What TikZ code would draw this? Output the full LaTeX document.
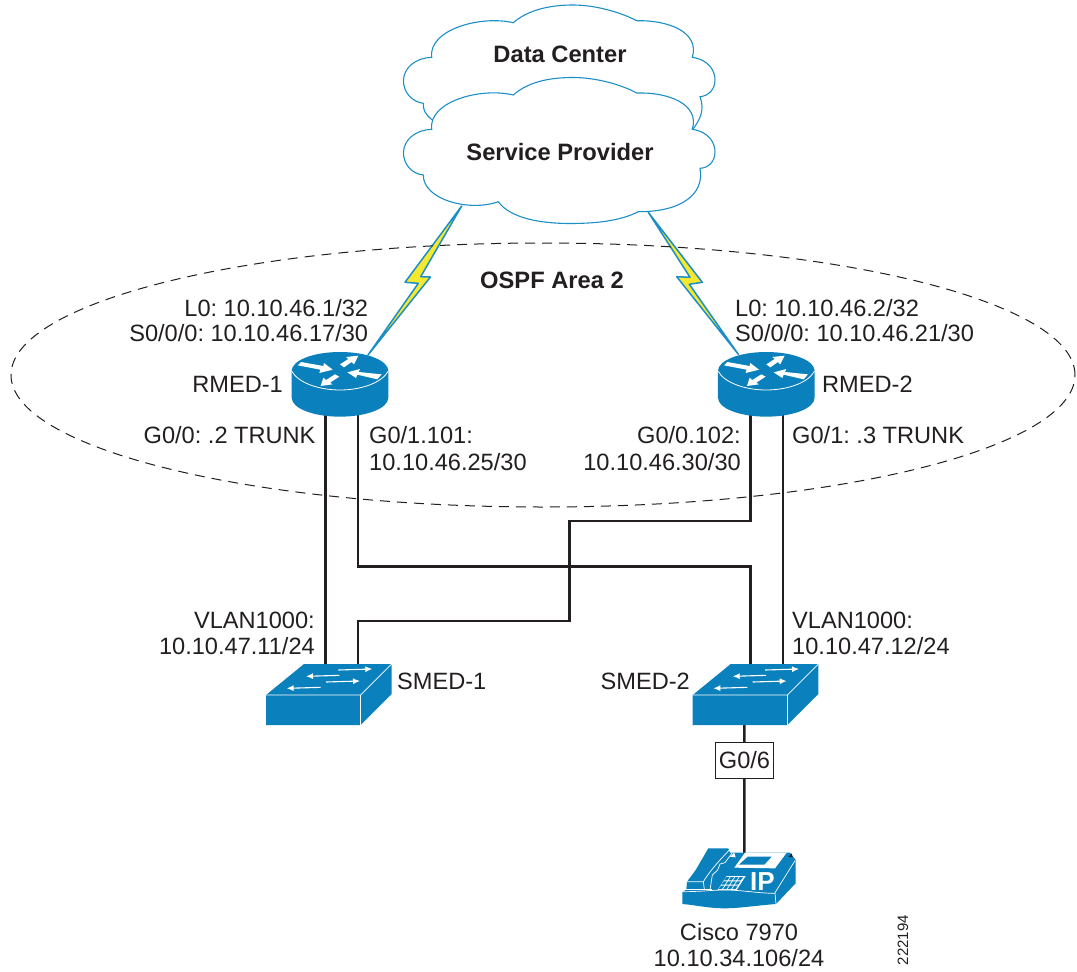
\documentclass[tikz,border=0pt]{standalone}
\usepackage{fontspec}
\setmainfont{Liberation Sans}
\usetikzlibrary{arrows.meta,shapes.geometric}
\definecolor{ciscoblue}{HTML}{0A80BC}
\definecolor{cloudline}{HTML}{1C8FC6}
\definecolor{ink}{HTML}{231F20}
\definecolor{boltyellow}{HTML}{F6E82F}
\tikzset{
  lbl/.style={inner sep=0pt,text=ink,font=\fontsize{23.6}{28}\selectfont},
  boldlbl/.style={inner sep=0pt,text=ink,font=\fontsize{23.7}{28}\selectfont\bfseries,anchor=base},
  link/.style={draw=ink,line width=2.5pt,line join=miter},
  cloudshape/.style={fill=white,draw=cloudline,line width=1.1pt},
  boltshape/.style={fill=boltyellow,draw=cloudline,line width=1.5pt,line join=round},
  area/.style={ellipse,draw=ink,line width=1pt,dash pattern=on 10pt off 7pt,inner sep=0pt,minimum width=1064pt,minimum height=264pt},
  whitearrow/.style={fill=white,draw=none},
  swarrow/.style={draw=white,line width=1.1pt,-{Latex[length=7pt,width=6pt]}},
  routerpic/.pic={
    \begin{scope}[x=0.3333pt,y=-0.3333pt,shift={(-210,-513)}]
      \fill[ciscoblue] (65,513) .. controls (65,481) and (130,456) .. (210,456) .. controls (290,456) and (355,481) .. (355,513)
        -- (355,593) .. controls (355,625) and (290,650) .. (210,650) .. controls (130,650) and (65,625) .. (65,593) -- cycle;
      \draw[white,line width=0.8pt] (65,513) .. controls (85,550) and (150,570) .. (210,570) .. controls (270,570) and (335,550) .. (355,513);
      \fill[whitearrow] (83,496) -- (93,486) -- (160,498) -- (162,489) -- (188,509) -- (148,519) -- (151,509) -- cycle;
      \fill[whitearrow] (265,467) -- (252,493) -- (245,486) -- (222,502) -- (210,493) -- (235,477) -- (228,471) -- cycle;
      \fill[whitearrow] (232,517) -- (270,507) -- (266,516) -- (335,523) -- (322,538) -- (262,524) -- (258,534) -- cycle;
      \fill[whitearrow] (152,558) -- (160,533) -- (168,540) -- (195,523) -- (208,530) -- (180,548) -- (188,553) -- cycle;
    \end{scope}
  },
  switchpic/.pic={
    \begin{scope}[x=0.3333pt,y=-0.3333pt,shift={(-48,-255)}]
      \fill[ciscoblue] (48,165) -- (162,72) -- (425,72) -- (425,162) -- (332,255) -- (48,255) -- cycle;
      \draw[white,line width=0.7pt] (48,165) -- (332,165) -- (425,72);
      \draw[white,line width=0.7pt] (332,165) -- (332,255);
      \draw[swarrow] (265,90) -- (367,87);
      \draw[swarrow] (268,106) -- (168,109);
      \draw[swarrow] (228,126) -- (330,123);
      \draw[swarrow] (212,142) -- (110,145);
    \end{scope}
  },
  phonepic/.pic={
    \begin{scope}[x=0.3333pt,y=-0.3333pt]
      \fill[ciscoblue] (22,157) -- (34,148) -- (36,125) -- (62,90) -- (100,25) -- (160,25) -- (165,38) -- (345,38) -- (362,60) -- (362,130) -- (303,192) .. controls (250,196) and (190,205) .. (150,205) .. controls (100,205) and (60,195) .. (22,192) -- cycle;
      \draw[white,line width=0.7pt] (24,155) .. controls (80,155) and (110,150) .. (150,150) .. controls (200,150) and (250,160) .. (300,160) -- (303,192);
      \draw[white,line width=0.7pt] (28,148) -- (110,148);
      \draw[white,line width=0.7pt] (300,158) -- (360,62);
      \draw[white,line width=0.7pt] (36,125) -- (85,125) -- (88,148);
      \draw[white,line width=0.7pt] (85,125) .. controls (110,85) and (135,60) .. (165,28);
      \draw[white,line width=0.7pt] (105,150) -- (112,105) -- (128,90) -- (135,72) -- (150,68) -- (172,38);
      \fill[white] (178,83) -- (210,38) -- (335,38) -- (300,85) -- cycle;
      \fill[ciscoblue] (192,74) -- (218,50) -- (290,50) -- (268,74) -- cycle;
      \fill[white] (165,50) -- (178,38) -- (182,52) -- cycle;
      \fill[ink] (340,50) -- (350,40) -- (353,52) -- cycle;
      \fill[white] (128,150) -- (155,108) -- (212,108) -- (185,150) -- cycle;
      \foreach \i in {0,1,2}{\foreach \j in {0,1,2,3}{
        \pgfmathsetmacro{\yy}{111+\i*13}
        \pgfmathsetmacro{\xx}{154+\j*13.5-\i*8}
        \fill[ciscoblue] (\xx,\yy) -- (\xx+10,\yy) -- (\xx+3,\yy+10) -- (\xx-7,\yy+10) -- cycle;
      }}
      \node[inner sep=0pt,text=white,font=\fontsize{26}{26}\selectfont\bfseries,anchor=base] (phoneip) at (262,150) {IP};
    \end{scope}
  }
}
\begin{document}
\frenchspacing
\begin{tikzpicture}[x=1pt,y=-1pt]
\useasboundingbox (0,0) rectangle (1077,972);
\fill[white] (0,0) rectangle (1077,972);

% clouds
\path[cloudshape] (513.3,22.7) .. controls (530,8) and (555,5) .. (573,5) .. controls (595,5) and (620,12) .. (636.7,20.7)
  .. controls (668,20) and (700,32) .. (692.3,57.3)
  .. controls (710,60) and (715,72) .. (715,80) .. controls (715,90) and (708,96) .. (700,96.7)
  .. controls (705,110) and (700,120) .. (692.7,129.3) -- (432.3,120)
  .. controls (425,114) and (423,110) .. (423.3,103.3)
  .. controls (412,102) and (403,92) .. (403.5,80) .. controls (404,68) and (415,58) .. (431.7,57.3)
  .. controls (428,30) and (480,15) .. (513.3,22.7) -- cycle;
\path[cloudshape] (513.3,95) .. controls (530,80) and (555,77.5) .. (573,77.5) .. controls (595,77.5) and (620,84) .. (636.7,93)
  .. controls (668,92) and (700,104) .. (692.3,129.3)
  .. controls (710,132) and (715,144) .. (715,152) .. controls (715,162) and (708,168) .. (700,168.3)
  .. controls (705,195) and (680,212) .. (638.3,211.7)
  .. controls (622,220) and (600,223.5) .. (570,223.5) .. controls (540,223.5) and (510,218) .. (498.3,201.7)
  .. controls (470,212) and (423,200) .. (423.3,175)
  .. controls (412,174) and (403,164) .. (403.5,152) .. controls (404,140) and (415,130) .. (431.7,129.3)
  .. controls (428,102) and (480,87) .. (513.3,95) -- cycle;
\node[boldlbl] (dc) at (560,62.7) {Data Center};
\node[boldlbl] (sp) at (560,160.7) {Service Provider};

% connection points
\coordinate (b1top) at (461.7,206);
\coordinate (b1bot) at (368,355);
\coordinate (b2top) at (648.3,212.3);
\coordinate (b2bot) at (738.3,354.3);
\coordinate (r1a) at (325.3,410);
\coordinate (r1b) at (358,410);
\coordinate (r2a) at (750.5,410);
\coordinate (r2b) at (783,410);
\coordinate (s1a) at (325.3,670);
\coordinate (s1b) at (358,670);
\coordinate (s2a) at (750.5,670);
\coordinate (s2b) at (783,670);
\coordinate (s2c) at (744.3,720);
\coordinate (ph) at (744.3,855);

% lightning links
\draw[boltshape] (b1top) -- (405,282.3) -- (418.3,283.3) -- (b1bot) -- (430.5,277) -- (420.7,276.7) -- cycle;
\draw[boltshape] (b2top) -- (702.3,282.3) -- (689.3,284.3) -- (b2bot) -- (676.7,276.7) -- (690,277.3) -- cycle;

% OSPF area
\node[area] (areac) at (543,375) {};
\node[boldlbl] (ospf) at (552,288) {OSPF Area 2};

% cables
\draw[link] (r1a) -- (s1a);
\draw[link] (r2b) -- (s2b);
\draw[link] (r1b) |- (750.5,566.7) -- (s2a);
\draw[link] (r2a) |- (569.5,521) |- (358,621) -- (s1b);
\node[draw=ink,line width=0.9pt,fill=white,lbl,minimum width=57.5pt,minimum height=35.5pt] (g06) at (744.5,760.5) {};
\draw[link] (s2c) -- (g06);
\draw[link] (g06) -- (ph);
\node[lbl,anchor=base] (g06t) at (744.5,768.5) {G0/6};

% devices
\pic at (340,371) {routerpic};
\pic at (766.3,371) {routerpic};
\pic at (266,725) {switchpic};
\pic at (692.7,725) {switchpic};
\pic at (675,840) {phonepic};

% labels
\node[lbl,anchor=base east] (l1a) at (368.3,316) {L0: 10.10.46.1/32};
\node[lbl,anchor=base east] (l1b) at (368.3,341.7) {S0/0/0: 10.10.46.17/30};
\node[lbl,anchor=base west] (l2a) at (735,316) {L0: 10.10.46.2/32};
\node[lbl,anchor=base west] (l2b) at (735,341.7) {S0/0/0: 10.10.46.21/30};
\node[lbl,anchor=base east] (rm1) at (283,392.7) {RMED-1};
\node[lbl,anchor=base west] (rm2) at (822,392.7) {RMED-2};
\node[lbl,anchor=base east] (g00) at (315.7,443) {G0/0: .2 TRUNK};
\node[lbl,anchor=base west] (g01a) at (369,443) {G0/1.101:};
\node[lbl,anchor=base west] (g01b) at (369,470.7) {10.10.46.25/30};
\node[lbl,anchor=base east] (g02a) at (741,443) {G0/0.102:};
\node[lbl,anchor=base east] (g02b) at (741,470.7) {10.10.46.30/30};
\node[lbl,anchor=base west] (g03) at (792,443) {G0/1: .3 TRUNK};
\node[lbl,anchor=base east] (v1a) at (315,628) {VLAN1000:};
\node[lbl,anchor=base east] (v1b) at (315,654) {10.10.47.11/24};
\node[lbl,anchor=base west] (v2a) at (792,628) {VLAN1000:};
\node[lbl,anchor=base west] (v2b) at (792,654) {10.10.47.12/24};
\node[lbl,anchor=base west] (sm1) at (397,689) {SMED-1};
\node[lbl,anchor=base east] (sm2) at (690,689) {SMED-2};
\node[lbl,anchor=base] (ph1) at (739,940) {Cisco 7970};
\node[lbl,anchor=base] (ph2) at (739,966) {10.10.34.106/24};
\node[inner sep=0pt,text=ink,font=\fontsize{15}{16}\selectfont,rotate=90,anchor=base] (num) at (908,940) {222194};
\end{tikzpicture}
\end{document}
